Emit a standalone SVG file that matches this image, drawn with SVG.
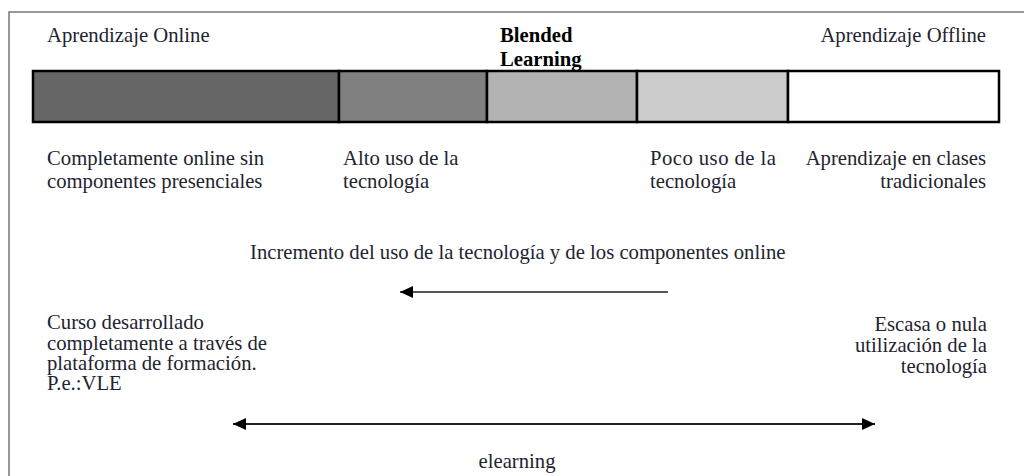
<svg xmlns="http://www.w3.org/2000/svg" width="1024" height="476" viewBox="0 0 1024 476">
<style>
text{font-family:"Liberation Serif","Times New Roman",serif;font-size:20.7px;fill:#1e2430}
.b{font-weight:bold;fill:#000}
.e{text-anchor:end}
.seg{stroke:#000;stroke-width:2.5}
</style>
<defs>
<marker id="ah" markerWidth="13" markerHeight="12" refX="13" refY="6" orient="auto-start-reverse" markerUnits="userSpaceOnUse">
<path d="M0,0 L13,6 L0,12 Z" fill="#000"/>
</marker>
</defs>
<rect width="1024" height="476" fill="#fff"/>
<path d="M9,476 V12 H1024" fill="none" stroke="#777" stroke-width="1.5"/>
<g id="headers">
<text x="47" y="42">Aprendizaje Online</text>
<text class="b" x="500" y="42">Blended</text>
<text class="b" x="500" y="66">Learning</text>
<text class="e" x="986" y="42">Aprendizaje Offline</text>
</g>
<g id="bar">
<rect class="seg" x="33" y="71" width="306" height="51" fill="#666"/>
<rect class="seg" x="339" y="71" width="148" height="51" fill="#808080"/>
<rect class="seg" x="487" y="71" width="150" height="51" fill="#b3b3b3"/>
<rect class="seg" x="637" y="71" width="151" height="51" fill="#cbcbcb"/>
<rect class="seg" x="788" y="71" width="211" height="51" fill="#fff"/>
</g>
<g id="desc1"><text x="47" y="165">Completamente online sin</text><text x="47" y="188">componentes presenciales</text></g>
<g id="desc2"><text x="343" y="165">Alto uso de la</text><text x="343" y="188">tecnología</text></g>
<g id="desc3"><text x="650" y="165" textLength="126" lengthAdjust="spacing">Poco uso de la</text><text x="650" y="188">tecnología</text></g>
<g id="desc4"><text class="e" x="986" y="165">Aprendizaje en clases</text><text class="e" x="986" y="188">tradicionales</text></g>
<g id="increment"><text x="250" y="259">Incremento del uso de la tecnología y de los componentes online</text></g>
<g id="left-note">
<text x="47" y="329">Curso desarrollado</text>
<text x="47" y="350">completamente a través de</text>
<text x="47" y="370">plataforma de formación.</text>
<text x="47" y="390">P.e.:VLE</text>
</g>
<g id="right-note">
<text class="e" x="987" y="331">Escasa o nula</text>
<text class="e" x="987" y="352">utilización de la</text>
<text class="e" x="987" y="373">tecnología</text>
</g>
<g id="elearning-label"><text x="517" y="468" text-anchor="middle">elearning</text></g>
<g id="connectors">
<line x1="668" y1="292" x2="400" y2="292" stroke="#555" stroke-width="2" marker-end="url(#ah)"/>
<line x1="233" y1="424" x2="875" y2="424" stroke="#222" stroke-width="2" marker-start="url(#ah)" marker-end="url(#ah)"/>
</g>
</svg>
